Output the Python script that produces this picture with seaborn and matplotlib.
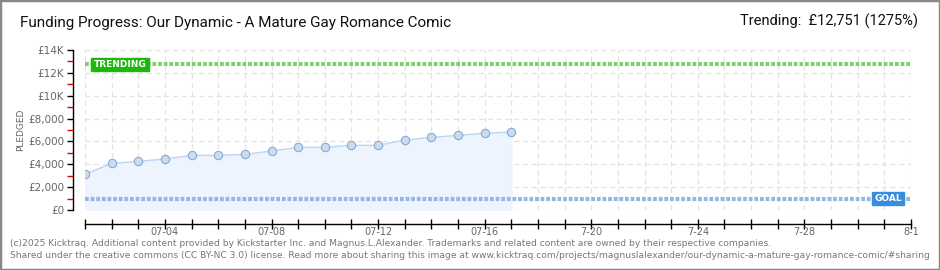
import matplotlib
matplotlib.use("Agg")
import matplotlib.pyplot as plt
import matplotlib.dates as mdates
from matplotlib.patches import Rectangle
from matplotlib.ticker import FixedLocator
import seaborn as sns
import numpy as np
import pandas as pd

# daily pledged totals
days = pd.date_range("2025-07-01", "2025-07-17")
pledged = [3120, 4080, 4260, 4460, 4780, 4780, 4870, 5160, 5480,
           5480, 5660, 5660, 6120, 6360, 6530, 6710, 6830]
goal = 1000
trending = 12751

x_start, x_end = "2025-07-01", "2025-08-01"
x_tick_dates = ["2025-07-04", "2025-07-08", "2025-07-12", "2025-07-16",
                "2025-07-20", "2025-07-24", "2025-07-28", "2025-08-01"]
x_tick_labels = ["07-04", "07-08", "07-12", "07-16", "7-20", "7-24", "7-28", "8-1"]
y_ticks = [0, 2000, 4000, 6000, 8000, 10000, 12000, 14000]
y_labels = ["£0", "£2,000", "£4,000", "£6,000", "£8,000", "£10K", "£12K", "£14K"]

df = pd.DataFrame({"day": days, "pledged": pledged})

sns.set_style("white")
plt.rcParams["font.family"] = ["DejaVu Sans"]

fig = plt.figure(figsize=(9.4, 2.7), dpi=100)
ax = fig.add_axes([85 / 940, 1 - 210 / 270, 826 / 940, 160 / 270])

# filled area + line with markers
ax.fill_between(df["day"], df["pledged"], 0, color="#edf4fd", zorder=1)
sns.lineplot(data=df, x="day", y="pledged", ax=ax, color="#bcd6f2", lw=1,
             marker="o", markersize=6, markerfacecolor="#c7ddf6",
             markeredgecolor="#8ea9c9", markeredgewidth=0.8, zorder=3)

# goal and trending lines
ax.axhline(trending, color="#7fd06f", lw=3, ls=(0, (0.9, 0.45)), zorder=2)
ax.axhline(goal, color="#93b7e4", lw=3, ls=(0, (0.9, 0.45)), zorder=2)

ax.text(0.0105, trending / 14000, "TRENDING", transform=ax.transAxes,
        fontsize=6.5, color="white", fontweight="bold", va="center", ha="left",
        bbox=dict(boxstyle="square,pad=0.25", fc="#1fb70f", ec="#1fb70f"), zorder=5)
ax.text(0.9555, goal / 14000, "GOAL", transform=ax.transAxes,
        fontsize=6.5, color="white", fontweight="bold", va="center", ha="left",
        bbox=dict(boxstyle="square,pad=0.25", fc="#3a8ddc", ec="#3a8ddc"), zorder=5)

ax.set_xlim(pd.Timestamp(x_start), pd.Timestamp(x_end))
ax.set_ylim(0, 14000)

# grid every day / every 2000
ax.xaxis.set_minor_locator(mdates.DayLocator())
ax.set_xticks(pd.to_datetime(x_tick_dates))
ax.set_xticklabels(x_tick_labels)
ax.set_yticks(y_ticks)
ax.set_yticklabels(y_labels)
ax.yaxis.set_minor_locator(FixedLocator(np.arange(1000, 14000, 2000)))

ax.grid(True, which="major", axis="y", color="#e3e3e3", lw=0.9, ls=(0, (4, 3)))
ax.grid(True, which="both", axis="x", color="#e3e3e3", lw=0.9, ls=(0, (4, 3)))

for s in ["top", "right"]:
    ax.spines[s].set_visible(False)
ax.spines["left"].set_position(("outward", 9))
ax.spines["bottom"].set_position(("outward", 10))
ax.spines["left"].set_color("black")
ax.spines["bottom"].set_color("black")
ax.spines["left"].set_linewidth(1)
ax.spines["bottom"].set_linewidth(1)

ax.tick_params(axis="y", which="major", direction="out", length=4, width=1, left=True,
               color="black", labelsize=7.5, labelcolor="#666666", pad=2)
ax.tick_params(axis="y", which="minor", direction="out", length=4, width=1, left=True,
               color="#dd0000")
ax.tick_params(axis="x", which="both", direction="inout", length=7, width=1,
               color="black", labelsize=7, labelcolor="#666666", pad=-1, bottom=True)

ax.set_xlabel("")
ax.set_ylabel("PLEDGED", fontsize=6.5, color="#666666", labelpad=0)
ax.yaxis.set_label_coords(-60 / 826, 0.5)

# header and footer texts
fig.text(20 / 940, 1 - 23 / 270, "Funding Progress: Our Dynamic - A Mature Gay Romance Comic",
         fontsize=11, color="#111111", va="center", ha="left",
         family=["Roboto", "DejaVu Sans"])
fig.text(918 / 940, 1 - 21 / 270, "Trending:  £12,751 (1275%)",
         fontsize=10.5, color="#111111", va="center", ha="right",
         family=["Roboto", "DejaVu Sans"])
fig.text(10 / 940, 1 - 243 / 270,
         "(c)2025 Kicktraq. Additional content provided by Kickstarter Inc. and Magnus.L.Alexander. "
         "Trademarks and related content are owned by their respective companies.",
         fontsize=6.6, color="#777777", va="center", ha="left")
fig.text(10 / 940, 1 - 256 / 270,
         "Shared under the creative commons (CC BY-NC 3.0) license. Read more about sharing this image at "
         "www.kicktraq.com/projects/magnuslalexander/our-dynamic-a-mature-gay-romance-comic/#sharing",
         fontsize=6.6, color="#777777", va="center", ha="left")

fig.patches.append(Rectangle((0, 0), 1, 1, transform=fig.transFigure, fill=False,
                             edgecolor="#888888", lw=2.5))

fig.savefig("out.png", dpi=100)
